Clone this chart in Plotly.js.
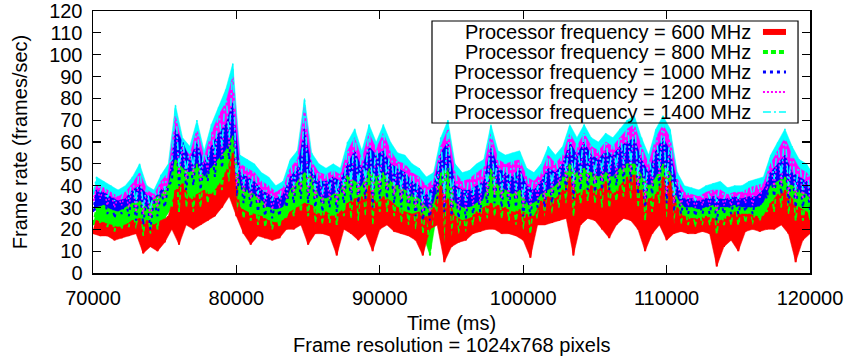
<!DOCTYPE html>
<html>
<head>
<meta charset="utf-8">
<script src="https://cdn.plot.ly/plotly-3.0.1.min.js"></script>
<style>html,body{margin:0;padding:0;background:#fff}#chart{width:850px;height:362px}</style>
</head>
<body>
<div id="chart"></div>
<script>
// Time grid: one sample envelope every 500 ms from 70000 to 120000 ms
const timeStartMs = 70000;
const timeStepMs = 500;
const sampleCount = 101;

// Envelopes (low / high frame rate, frames/sec)
const red600Low = [18,17,17,15,16,17,18,9,12,10, 14,20,13,22,20,22,24,26,30,35, 26,18,13,17,16,15,16,20,20,22, 13,18,18,17,8,20,18,15,18,10, 20,22,19,18,17,15,8,20,22,5, 12,14,15,18,19,20,20,18,18,17, 15,7,22,22,23,24,25,8,22,25, 24,20,16,22,25,24,20,10,18,22, 15,18,19,18,18,19,18,3,12,15, 10,19,20,19,20,20,22,18,5,15, 18];
const red600High = [24,23,22,21,22,24,25,24,22,24, 26,38,41,34,36,38,36,40,46,55, 30,28,27,26,24,23,24,28,30,32, 31,27,28,26,28,32,34,35,40,32, 35,33,30,28,27,28,26,30,40,34, 26,24,25,28,30,32,31,30,28,29, 27,26,33,35,34,38,44,36,38,40, 38,42,36,40,44,45,38,34,36,44, 42,30,26,25,25,26,25,24,26,28, 27,27,26,26,32,36,38,34,30,28, 25];

const green800Low = [22,23,21,19,20,21,20,17,18,20, 25,30,28,30,28,30,32,35,38,42, 28,25,24,22,21,20,21,25,26,28, 26,23,22,23,22,26,25,24,26,22, 28,28,26,23,22,20,18,8,28,12, 16,18,19,22,23,25,26,25,24,22, 20,18,25,26,27,30,32,26,32,33, 32,30,30,33,35,34,30,24,28,32, 25,22,22,22,21,22,22,18,22,22, 22,23,22,24,28,28,30,27,24,24, 24];
const green800High = [30,31,29,28,30,32,33,30,34,36, 40,52,48,46,50,44,48,52,56,63, 40,38,36,33,30,29,30,38,42,46, 44,35,34,36,38,45,42,40,48,44, 46,42,40,38,36,34,30,32,46,48, 32,30,30,32,34,48,40,38,36,38, 32,32,36,38,40,44,50,46,48,46, 44,46,44,48,50,50,45,40,44,50, 46,34,30,30,29,30,31,30,30,31, 30,30,30,32,40,42,44,40,38,36, 32];

const blue1000Low = [28,30,27,25,27,26,24,22,20,26, 30,42,40,38,40,38,42,44,48,52, 35,32,30,28,26,25,26,30,32,34, 32,30,28,30,28,32,33,32,34,30, 34,34,32,30,28,26,24,24,34,28, 26,25,25,27,28,32,32,30,30,30, 26,26,30,30,32,36,38,34,38,38, 37,38,38,40,42,42,36,30,36,40, 32,28,27,27,26,27,27,24,27,27, 27,28,27,30,34,35,36,32,30,30, 29];
const blue1000High = [38,37,35,33,34,38,40,36,34,38, 40,66,60,52,60,50,58,64,68,78, 46,44,42,38,36,34,36,44,48,66, 48,42,42,44,42,50,56,48,58,54, 56,50,48,46,42,40,36,40,55,60, 40,38,38,40,42,58,48,46,44,48, 40,38,42,48,46,50,60,54,60,54, 52,56,54,58,60,62,52,46,56,62, 56,40,34,34,33,34,35,34,34,35, 34,35,35,38,46,50,54,46,44,42, 38];

const magenta1200Low = [33,34,31,30,31,30,28,27,25,30, 34,48,45,43,45,42,47,50,54,58, 40,36,34,32,30,29,30,34,36,38, 36,34,32,34,32,36,37,36,38,34, 38,38,36,34,32,30,28,28,38,32, 30,29,29,31,32,36,36,34,34,34, 30,30,34,34,36,40,42,38,42,42, 41,42,42,44,46,46,40,34,40,44, 36,32,31,31,30,31,31,28,31,31, 31,32,31,34,38,39,40,36,34,34, 33];
const magenta1200High = [40,39,37,35,37,41,46,38,36,42, 46,72,58,54,66,53,64,72,78,90, 50,48,46,42,40,37,39,48,52,76, 51,46,45,47,45,56,62,52,64,57, 64,56,51,50,46,44,40,43,58,66, 46,42,43,46,48,64,52,50,51,52, 44,42,46,54,50,54,64,58,64,58, 56,60,58,62,66,68,58,50,62,68, 62,43,37,36,35,37,38,38,36,37, 37,39,40,41,50,56,62,54,48,46, 42];

const cyan1400Low = [36,37,34,33,34,34,32,30,29,34, 38,52,48,46,48,45,50,54,58,62, 44,40,38,36,34,33,34,38,40,42, 40,38,36,38,36,40,41,40,42,38, 42,42,40,38,36,34,32,32,42,36, 34,33,33,35,36,40,40,38,38,38, 34,34,38,38,40,44,46,42,46,46, 45,46,46,48,50,50,44,38,44,48, 40,35,34,34,33,34,34,32,34,34, 34,35,35,37,42,43,44,40,38,38, 36];
const cyan1400High = [44,42,40,38,40,44,50,40,38,45, 50,77,62,58,70,56,68,76,84,96, 54,52,50,46,44,40,42,52,56,80, 55,50,48,50,48,60,66,56,68,60, 68,60,55,54,50,48,44,46,62,70, 50,46,47,50,52,68,56,54,55,56, 48,46,50,58,54,58,68,62,68,62, 60,64,62,66,70,72,62,54,66,72, 66,46,40,39,38,40,41,42,39,40, 40,42,43,44,54,60,66,58,52,50, 45];

const seriesNames = [
  'Processor frequency = 600 MHz',
  'Processor frequency = 800 MHz',
  'Processor frequency = 1000 MHz',
  'Processor frequency = 1200 MHz',
  'Processor frequency = 1400 MHz'
];
const xTickValues = [70000, 80000, 90000, 100000, 110000, 120000];
const xTickLabels = ['70000', '80000', '90000', '100000', '110000', '120000'];
const xTitleText = 'Time (ms)';
const xSubtitleText = 'Frame resolution = 1024x768 pixels';
const yTitleText = 'Frame rate (frames/sec)';

const styles = [
  {color: '#ff0000', width: 2, dash: 'solid', keyWidth: 6},
  {color: '#00ff00', width: 2, dash: '5px,3px', keyWidth: 4},
  {color: '#0000ff', width: 2, dash: '3px,4px', keyWidth: 3},
  {color: '#ff00ff', width: 1.5, dash: '2px,2px', keyWidth: 2},
  {color: '#00ffff', width: 1.5, dash: '8px,3px,2px,3px', keyWidth: 1.5}
];
const envelopes = [
  [red600Low, red600High],
  [green800Low, green800High],
  [blue1000Low, blue1000High],
  [magenta1200Low, magenta1200High],
  [cyan1400Low, cyan1400High]
];

function bandTrace(k) {
  const env = envelopes[k];
  const bx = [], by = [];
  for (let i = 0; i < sampleCount; i++) {
    bx.push(timeStartMs + i * timeStepMs); by.push(env[0][i]);
  }
  for (let i = sampleCount - 1; i >= 0; i--) {
    bx.push(timeStartMs + i * timeStepMs + timeStepMs / 2); by.push(env[1][i]);
  }
  return {
    type: 'scatter', mode: 'lines', x: bx, y: by, fill: 'toself', fillcolor: styles[k].color,
    line: {width: 0.5, color: styles[k].color}, showlegend: false, hoverinfo: 'skip'
  };
}
function swingTrace(k) {
  const env = envelopes[k];
  const lx = [], ly = [];
  for (let i = 0; i < sampleCount; i++) {
    const t = timeStartMs + i * timeStepMs;
    lx.push(t); ly.push(env[0][i]);
    lx.push(t + timeStepMs / 2); ly.push(env[1][i]);
  }
  return {
    type: 'scatter', mode: 'lines', x: lx, y: ly, name: seriesNames[k],
    showlegend: false, hoverinfo: 'skip',
    line: {color: styles[k].color, width: styles[k].width, dash: styles[k].dash}
  };
}

// bands from the highest series down, then swing lines; red swing line last
const traces = [];
for (let k = envelopes.length - 1; k >= 0; k--) traces.push(bandTrace(k));
for (let k = 1; k < envelopes.length; k++) traces.push(swingTrace(k));
traces.push(swingTrace(0));

const font = {family: 'Liberation Sans, Arial, sans-serif', size: 20, color: '#000'};

// Manual gnuplot-style key: text right-aligned, sample to the right
const keyRowsY = [0.920, 0.8435, 0.767, 0.691, 0.6145];
const annotations = seriesNames.map(function (n, k) {
  return {xref: 'paper', yref: 'paper', x: 0.919, y: keyRowsY[k], text: n, showarrow: false,
          xanchor: 'right', yanchor: 'middle', font: font, borderpad: 0};
});
annotations.push({xref: 'paper', yref: 'paper', x: 0.5, y: -0.2748, text: xSubtitleText, showarrow: false,
                  xanchor: 'center', yanchor: 'middle', font: font, borderpad: 0});
const shapes = [{type: 'rect', xref: 'paper', yref: 'paper', x0: 0.4728, x1: 0.9833, y0: 0.5725, y1: 0.9618,
                 line: {color: '#000', width: 1.2}, fillcolor: 'rgba(0,0,0,0)', layer: 'above'}];
styles.forEach(function (s, k) {
  shapes.push({type: 'line', xref: 'paper', yref: 'paper', x0: 0.9344, x1: 0.9665, y0: keyRowsY[k], y1: keyRowsY[k],
               line: {color: s.color, width: s.keyWidth, dash: s.dash}, layer: 'above'});
});

const layout = {
  width: 850, height: 362,
  margin: {l: 93, r: 40, t: 11, b: 89},
  paper_bgcolor: '#fff', plot_bgcolor: '#fff',
  showlegend: false,
  font: font,
  xaxis: {
    range: [70000, 120000], tickvals: xTickValues, ticktext: xTickLabels,
    ticks: 'inside', ticklen: 8, tickwidth: 1.2, tickcolor: '#000',
    showline: true, linecolor: '#000', linewidth: 1.5, mirror: 'ticks',
    showgrid: false, zeroline: false, tickfont: font, ticklabelstandoff: 6,
    title: {text: xTitleText, font: font, standoff: 8}
  },
  yaxis: {
    range: [0, 120], dtick: 10, tick0: 0,
    ticks: 'inside', ticklen: 8, tickwidth: 1.2, tickcolor: '#000',
    showline: true, linecolor: '#000', linewidth: 1.5, mirror: 'ticks',
    showgrid: false, zeroline: false, tickfont: font, ticklabelstandoff: 5,
    title: {text: yTitleText, font: font, standoff: 16}
  },
  annotations: annotations,
  shapes: shapes
};

Plotly.newPlot('chart', traces, layout, {displayModeBar: false, staticPlot: true});
</script>
</body>
</html>
